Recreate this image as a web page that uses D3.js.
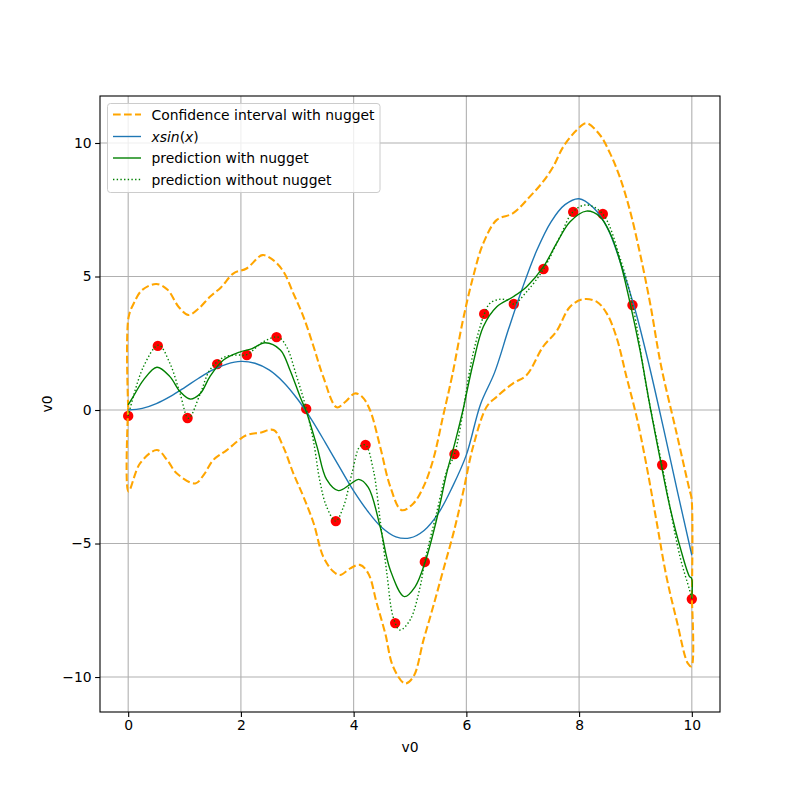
<!DOCTYPE html>
<html>
<head>
<meta charset="utf-8">
<script src="https://cdn.jsdelivr.net/npm/d3@7"></script>
<style>
  body { margin: 0; background: #fff; }
  text { font-family: "DejaVu Sans", sans-serif; }
</style>
</head>
<body>
<svg id="chart" width="800" height="800"></svg>
<script>
// ---- data ----
const xTicks = [0, 2, 4, 6, 8, 10];
const yTicks = [-10, -5, 0, 5, 10];

const obsX = [0, 0.526, 1.053, 1.579, 2.105, 2.632, 3.158, 3.684, 4.211, 4.737,
              5.263, 5.789, 6.316, 6.842, 7.368, 7.895, 8.421, 8.947, 9.474, 10];
const obsY = [-0.22, 2.4, -0.3, 1.72, 2.06, 2.73, 0.04, -4.16, -1.31, -7.98,
              -5.69, -1.65, 3.6, 3.97, 5.28, 7.42, 7.34, 3.93, -2.06, -7.08];

const trueX = [0, 0.25, 0.5, 0.75, 1, 1.25, 1.5, 1.75, 2, 2.25, 2.5, 2.75, 3, 3.25, 3.5, 3.75, 4, 4.25, 4.5, 4.75,
               5, 5.25, 5.5, 5.75, 6, 6.25, 6.5, 6.75, 7, 7.25, 7.5, 7.75, 8, 8.25, 8.5, 8.75, 9, 9.25, 9.5, 9.75, 10];
const trueY = [0, 0.06, 0.24, 0.51, 0.84, 1.19, 1.5, 1.72, 1.82, 1.75, 1.5, 1.05, 0.42, -0.35, -1.23, -2.14, -3.03, -3.79, -4.4, -4.75,
               -4.79, -4.51, -3.88, -2.89, -1.68, 0.21, 1.4, 3.04, 4.6, 5.98, 7.04, 7.69, 7.91, 7.58, 6.83, 5.42, 3.71, 1.61, -0.71, -3.1, -5.44];

const upperX = [0, 0.005, 0.1, 0.25, 0.5, 0.7, 0.9, 1.07, 1.25, 1.45, 1.65, 1.87, 2.1, 2.38, 2.55, 2.75, 2.93, 3.11, 3.29, 3.46,
                3.7, 3.85, 4.02, 4.15, 4.29, 4.47, 4.65, 4.85, 5.06, 5.24, 5.41, 5.59, 5.75, 5.94, 6.12, 6.3, 6.54, 6.83, 7.13, 7.36,
                7.54, 7.72, 7.96, 8.13, 8.37, 8.55, 8.72, 8.9, 9.08, 9.26, 9.45, 9.73, 9.96, 9.995, 10];
const upperY = [0.1, 3.45, 4.0, 4.5, 4.72, 4.5, 3.85, 3.56, 3.8, 4.24, 4.6, 5.12, 5.3, 5.8, 5.65, 5.2, 4.37, 3.49, 2.37, 1.25,
                0.1, 0.3, 0.62, 0.5, 0.0, -1.37, -2.87, -3.75, -3.5, -2.87, -1.87, -0.2, 1.3, 3.37, 4.99, 6.24, 7.12, 7.37, 8.0, 8.55,
                9.11, 9.86, 10.49, 10.74, 10.3, 9.61, 8.74, 7.49, 5.87, 4.0, 1.7, -0.87, -3.0, -3.3, -7.08];

const lowerX = [0, 0.005, 0.21, 0.51, 0.7, 0.86, 1.19, 1.35, 1.51, 1.75, 2.1, 2.34, 2.58, 2.75, 2.93, 3.11, 3.29, 3.46, 3.64, 3.76,
                3.94, 4.11, 4.26, 4.41, 4.56, 4.7, 4.91, 5.06, 5.24, 5.41, 5.59, 5.77, 5.94, 6.12, 6.36, 6.54, 6.83, 7.07, 7.36, 7.6,
                7.84, 8.07, 8.31, 8.49, 8.66, 8.84, 9.02, 9.2, 9.37, 9.55, 9.73, 9.93, 9.995, 10];
const lowerY = [0.1, -3.05, -2.0, -1.5, -1.9, -2.37, -2.75, -2.4, -1.87, -1.5, -0.94, -0.85, -0.75, -1.37, -2.37, -3.25, -4.24, -5.49, -6.05, -6.18,
                -5.93, -5.8, -6.12, -7.24, -8.36, -9.61, -10.24, -9.99, -8.61, -7.37, -5.99, -4.62, -3.1, -1.37, 0.12, 0.5, 1.0, 1.31, 2.37, 2.95,
                3.87, 4.15, 4.06, 3.62, 2.75, 1.25, -0.25, -2.12, -4.12, -6.24, -7.87, -9.49, -9.6, -7.08];

const nugX = [0, 0.09, 0.27, 0.51, 0.74, 0.92, 1.1, 1.28, 1.45, 1.69, 1.99, 2.2, 2.43, 2.7, 2.87, 3.05, 3.17, 3.35, 3.52, 3.73,
              3.94, 4.09, 4.26, 4.47, 4.65, 4.9, 5.09, 5.27, 5.47, 5.65, 5.8, 5.94, 6.12, 6.3, 6.54, 6.83, 7.07, 7.36, 7.6, 7.84,
              8.13, 8.37, 8.55, 8.72, 8.9, 9.08, 9.26, 9.43, 9.61, 9.79, 9.96, 9.995, 10];
const nugY = [0.19, 0.5, 1.12, 1.6, 1.25, 0.69, 0.41, 0.62, 1.25, 1.87, 2.18, 2.3, 2.52, 2.25, 1.5, 0.5, -0.12, -1.37, -2.6, -3.02,
              -2.78, -2.6, -2.9, -4.37, -5.99, -6.99, -6.62, -5.68, -4.12, -2.37, -1.2, 0.0, 1.75, 3.12, 3.87, 4.24, 4.62, 5.34, 6.24, 7.05,
              7.45, 7.24, 6.62, 5.62, 4.05, 2.25, 0.12, -1.75, -3.62, -5.12, -6.24, -6.3, -7.05];

const noNugX = [0, 0.27, 0.54, 0.74, 0.92, 1.07, 1.28, 1.45, 1.69, 1.93, 2.1, 2.4, 2.66, 2.81, 2.99, 3.16, 3.29, 3.4, 3.52, 3.68,
                3.82, 3.97, 4.11, 4.21, 4.35, 4.47, 4.59, 4.7, 4.82, 5.0, 5.18, 5.26, 5.47, 5.65, 5.79, 6.12, 6.32, 6.42, 6.6, 6.74,
                6.84, 7.07, 7.37, 7.66, 7.89, 8.13, 8.42, 8.72, 8.95, 9.2, 9.47, 9.79, 9.96, 10];
const noNugY = [-0.22, 1.62, 2.43, 1.75, 0.62, -0.31, 0.62, 1.5, 1.97, 2.06, 2.07, 2.56, 2.73, 2.37, 1.25, 0.04, -1.2, -2.65, -3.62, -4.16,
                -3.62, -2.37, -1.37, -1.31, -2.25, -4.12, -6.12, -7.74, -8.24, -7.87, -6.62, -5.69, -3.87, -2.3, -1.65, 2.12, 3.6, 4.0, 4.15, 4.1,
                3.97, 4.43, 5.28, 6.49, 7.42, 7.68, 7.34, 5.74, 3.93, 0.8, -2.06, -5.49, -6.74, -7.08];

const legendLabels = ["Confidence interval with nugget", "xsin(x)", "prediction with nugget", "prediction without nugget"];

// ---- layout ----
const svg = d3.select("#chart");
const L = 100, R = 720, T = 96, B = 712;
const x = d3.scaleLinear().domain([-0.5, 10.5]).range([L, R]);
const y = d3.scaleLinear().domain([-11.31, 11.76]).range([B, T]);

svg.append("rect").attr("x", 0).attr("y", 0).attr("width", 800).attr("height", 800).attr("fill", "#fff");

// grid
const grid = svg.append("g");
xTicks.forEach(t => grid.append("line").attr("x1", x(t)).attr("x2", x(t)).attr("y1", T).attr("y2", B)
  .attr("stroke", "#b0b0b0").attr("stroke-width", 1.1));
yTicks.forEach(t => grid.append("line").attr("x1", L).attr("x2", R).attr("y1", y(t)).attr("y2", y(t))
  .attr("stroke", "#b0b0b0").attr("stroke-width", 1.1));

const clip = svg.append("clipPath").attr("id", "clip").append("rect")
  .attr("x", L).attr("y", T).attr("width", R - L).attr("height", B - T);
const plot = svg.append("g").attr("clip-path", "url(#clip)");

const zip = (xs, ys) => xs.map((v, i) => [v, ys[i]]);
const line = d3.line().x(d => x(d[0])).y(d => y(d[1])).curve(d3.curveCatmullRom.alpha(0.5));

// observations
plot.selectAll("circle.obs").data(zip(obsX, obsY)).join("circle")
  .attr("cx", d => x(d[0])).attr("cy", d => y(d[1])).attr("r", 5.2).attr("fill", "#ff0000");

// confidence interval
[zip(upperX, upperY), zip(lowerX, lowerY)].forEach(s =>
  plot.append("path").attr("d", line(s)).attr("fill", "none").attr("stroke", "#ffa500")
    .attr("stroke-width", 2.08).attr("stroke-dasharray", "7.7,3.3"));

// true function
plot.append("path").attr("d", line(zip(trueX, trueY))).attr("fill", "none")
  .attr("stroke", "#1f77b4").attr("stroke-width", 1.39);

// prediction with nugget
plot.append("path").attr("d", line(zip(nugX, nugY))).attr("fill", "none")
  .attr("stroke", "#008000").attr("stroke-width", 1.39);

// prediction without nugget
plot.append("path").attr("d", line(zip(noNugX, noNugY))).attr("fill", "none")
  .attr("stroke", "#008000").attr("stroke-width", 1.39).attr("stroke-dasharray", "1.39,2.29");

// frame
svg.append("rect").attr("x", L).attr("y", T).attr("width", R - L).attr("height", B - T)
  .attr("fill", "none").attr("stroke", "#000").attr("stroke-width", 1.1);

// axes
const fmt = d => d < 0 ? "\u2212" + Math.abs(d) : String(d);
const xAxis = svg.append("g").attr("transform", `translate(0,${B})`)
  .call(d3.axisBottom(x).tickValues(xTicks).tickSize(4.9).tickPadding(3.5).tickFormat(fmt));
const yAxis = svg.append("g").attr("transform", `translate(${L},0)`)
  .call(d3.axisLeft(y).tickValues(yTicks).tickSize(4.9).tickPadding(3.5).tickFormat(fmt));
[xAxis, yAxis].forEach(a => {
  a.select(".domain").remove();
  a.selectAll(".tick line").attr("stroke", "#000").attr("stroke-width", 1.1);
  a.selectAll(".tick text").attr("fill", "#000").style("font-size", "13.9px")
    .style("font-family", "DejaVu Sans, sans-serif");
});

svg.append("text").attr("x", (L + R) / 2).attr("y", 752).attr("text-anchor", "middle")
  .style("font-size", "13.9px").text("v0");
svg.append("text").attr("transform", `translate(52,${(T + B) / 2}) rotate(-90)`).attr("text-anchor", "middle")
  .style("font-size", "13.9px").text("v0");

// legend
const lg = svg.append("g");
lg.append("rect").attr("x", 107.5).attr("y", 103.5).attr("width", 272.5).attr("height", 89).attr("rx", 3)
  .attr("fill", "#fff").attr("fill-opacity", 0.8).attr("stroke", "#cccccc").attr("stroke-width", 1);
const rowsY = [114.5, 136.5, 158, 179.5];
const styles = [
  {c: "#ffa500", w: 2.08, d: "7.7,3.3"},
  {c: "#1f77b4", w: 1.39, d: null},
  {c: "#008000", w: 1.39, d: null},
  {c: "#008000", w: 1.39, d: "1.39,2.29"}
];
legendLabels.forEach((lab, i) => {
  const s = styles[i];
  const ln = lg.append("line").attr("x1", 113).attr("x2", 141).attr("y1", rowsY[i]).attr("y2", rowsY[i])
    .attr("stroke", s.c).attr("stroke-width", s.w);
  if (s.d) ln.attr("stroke-dasharray", s.d);
  const t = lg.append("text").attr("x", 151.5).attr("y", rowsY[i] + 5).style("font-size", "13.9px");
  if (i === 1) {
    const m = lab.match(/^(xsin)\((x)\)$/);
    t.append("tspan").style("font-style", "italic").text(m[1]);
    t.append("tspan").text("(");
    t.append("tspan").style("font-style", "italic").text(m[2]);
    t.append("tspan").text(")");
  } else {
    t.text(lab);
  }
});
</script>
</body>
</html>
